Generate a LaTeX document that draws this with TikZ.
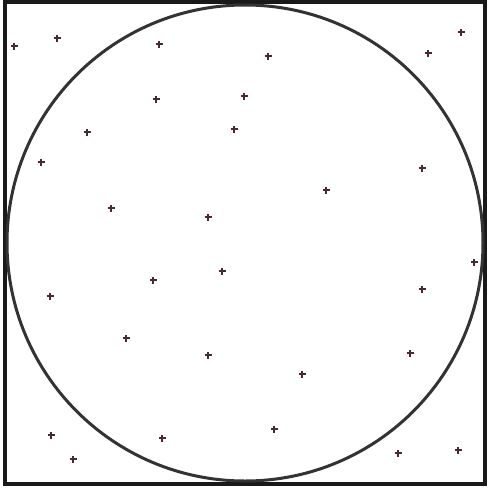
\documentclass[tikz,border=0pt]{standalone}
\begin{document}
\begin{tikzpicture}[x=1pt,y=-1pt,
  frame/.style={draw=black!90,line width=3.2pt},
  circ/.style={draw=black!80,line width=3pt},
  plusmark/.style={draw={rgb,255:red,70;green,40;blue,55},line width=2pt}]
\useasboundingbox (0,0) rectangle (488,488);
\fill[white] (0,0) rectangle (488,488);
\draw[frame] (5,2) rectangle (485,484);
\node[circ,circle,minimum size=476pt,inner sep=0pt] (c) at (245,243) {};
\foreach \x/\y [count=\i] in {14/46,57/38,159/44,268/56,428/53,461/32,
  156/99,244/96,87/132,234/129,41/162,422/168,326/190,111/208,208/217,
  474/262,222/271,153/280,422/289,50/296,126/338,208/355,410/353,302/374,
  51/435,162/438,274/429,73/459,398/453,458/450}{
  \coordinate (p\i) at (\x,\y);
  \draw[plusmark] ([xshift=-3.5pt]p\i) -- ([xshift=3.5pt]p\i)
                  ([yshift=-3.5pt]p\i) -- ([yshift=3.5pt]p\i);
}
\end{tikzpicture}
\end{document}
